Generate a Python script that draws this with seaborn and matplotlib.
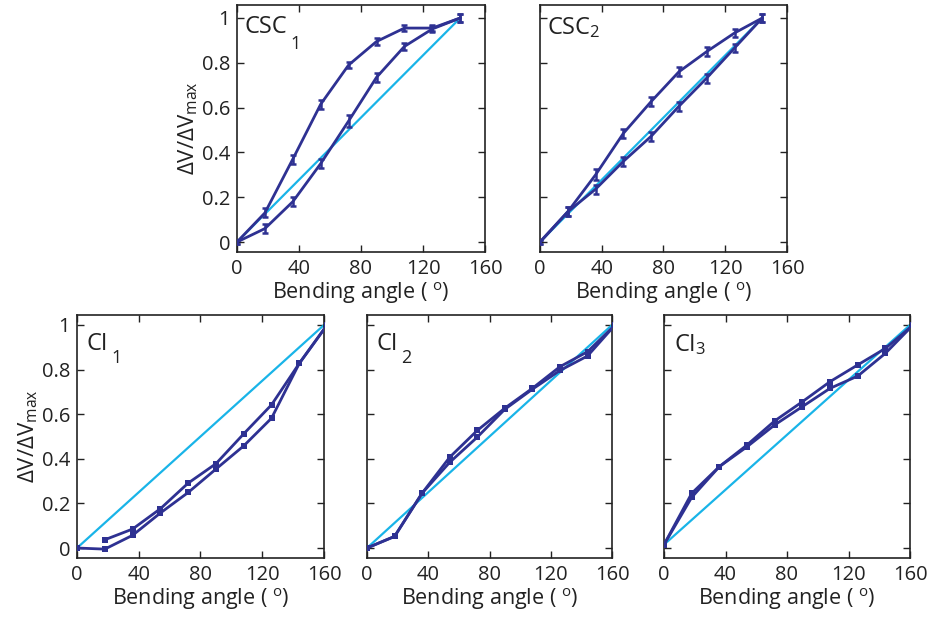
import numpy as np
import pandas as pd
import matplotlib
matplotlib.use("Agg")
import matplotlib.pyplot as plt
import seaborn as sns

# ---------------- data ----------------
x_top = [0, 18, 36, 54, 72, 90, 108, 126, 144]
x_bot = [0, 18, 36, 54, 72, 90, 108, 126, 144, 162]

csc1_up = [0.0, 0.13, 0.37, 0.615, 0.79, 0.895, 0.955, 0.955, 1.0]
csc1_dn = [0.0, 0.06, 0.18, 0.35, 0.54, 0.735, 0.873, 0.951, 1.0]
csc1_up_err = [0.01, 0.02, 0.02, 0.02, 0.015, 0.015, 0.015, 0.015, 0.02]
csc1_dn_err = [0.01, 0.02, 0.02, 0.02, 0.025, 0.02, 0.015, 0.015, 0.02]

csc2_up = [0.0, 0.135, 0.30, 0.485, 0.627, 0.76, 0.85, 0.933, 1.0]
csc2_dn = [0.0, 0.135, 0.236, 0.36, 0.472, 0.606, 0.732, 0.866, 1.0]
csc2_up_err = [0.01, 0.02, 0.025, 0.02, 0.02, 0.02, 0.02, 0.02, 0.02]
csc2_dn_err = [0.01, 0.02, 0.02, 0.02, 0.02, 0.02, 0.02, 0.02, 0.02]

ci1_a = [np.nan, 0.037, 0.085, 0.176, 0.291, 0.378, 0.512, 0.642, 0.828, 1.0]
ci1_b = [0.0, -0.005, 0.057, 0.157, 0.249, 0.354, 0.458, 0.582, 0.828, 1.0]

ci2_a = [0.0, 0.052, 0.246, 0.407, 0.527, 0.627, 0.716, 0.813, 0.88, 1.0]
ci2_b = [0.0, 0.052, 0.246, 0.384, 0.497, 0.622, 0.712, 0.796, 0.861, 1.0]

ci3_a = [0.015, 0.245, 0.365, 0.462, 0.57, 0.656, 0.746, 0.821, 0.895, 1.0]
ci3_b = [0.015, 0.227, 0.365, 0.454, 0.552, 0.634, 0.716, 0.771, 0.873, 1.0]

ref_top_x = [0, 144]
ref_top_y = [0, 1]
ref_bot_x = [0, 160]
ref_bot_y = [0, 1]
ref_ci3_y = [0.015, 1]

x_ticks = [0, 40, 80, 120, 160]
y_ticks = [0, 0.2, 0.4, 0.6, 0.8, 1]
y_ticklabels = ["0", "0.2", "0.4", "0.6", "0.8", "1"]

DARK = "#2E3192"
CYAN = "#19B4E8"
TXT = "#222222"

# ---------------- style ----------------
sns.set_style("ticks")
plt.rcParams["font.family"] = ["Open Sans", "DejaVu Sans"]
plt.rcParams["mathtext.fontset"] = "custom"
plt.rcParams["mathtext.rm"] = "Open Sans"
plt.rcParams["mathtext.it"] = "Open Sans:italic"
plt.rcParams["mathtext.bf"] = "Open Sans:bold"
plt.rcParams["xtick.direction"] = "in"
plt.rcParams["ytick.direction"] = "in"

fig = plt.figure(figsize=(9.28, 6.18), dpi=100)

W = 928.0
H = 618.0


def add_ax(left_px, right_px, top_px, bottom_px):
    return fig.add_axes([left_px / W, 1 - bottom_px / H,
                         (right_px - left_px) / W, (bottom_px - top_px) / H])


def style_ax(ax, ylims, show_ylabels):
    ax.set_xlim(0, 160)
    ax.set_ylim(*ylims)
    ax.set_xticks(x_ticks)
    ax.set_yticks(y_ticks)
    ax.set_xticklabels([str(t) for t in x_ticks])
    if show_ylabels:
        ax.set_yticklabels(y_ticklabels)
    else:
        ax.set_yticklabels([])
    ax.tick_params(which="both", direction="in", top=True, right=True,
                   length=5, width=1.0, labelsize=14.5, pad=5, colors=TXT,
                   labelcolor=TXT)
    for s in ax.spines.values():
        s.set_linewidth(1.2)
        s.set_color(TXT)
    ax.set_xlabel("Bending angle ( $^{\\mathrm{o}}$)", fontsize=15.5,
                  color=TXT, labelpad=1)
    if show_ylabels:
        ax.set_ylabel("ΔV/ΔV$_{\\mathrm{max}}$", fontsize=16,
                      color=TXT, labelpad=1)
    else:
        ax.set_ylabel("")


def draw_top(ax, up, dn, up_err, dn_err):
    df = pd.DataFrame({"x": x_top * 2, "y": up + dn,
                       "branch": ["up"] * len(x_top) + ["dn"] * len(x_top)})
    sns.lineplot(data=pd.DataFrame({"x": ref_top_x, "y": ref_top_y}), x="x", y="y",
                 ax=ax, color=CYAN, linewidth=1.6, sort=False, zorder=2)
    sns.lineplot(data=df, x="x", y="y", units="branch", estimator=None,
                 ax=ax, color=DARK, linewidth=2.0, sort=False, zorder=3)
    ax.errorbar(x_top, up, yerr=up_err, fmt="none", ecolor=DARK,
                elinewidth=1.8, capsize=2.5, capthick=1.8, zorder=4)
    ax.errorbar(x_top, dn, yerr=dn_err, fmt="none", ecolor=DARK,
                elinewidth=1.8, capsize=2.5, capthick=1.8, zorder=4)


def draw_bot(ax, a, b, ref_y):
    df = pd.DataFrame({"x": x_bot * 2, "y": a + b,
                       "branch": ["a"] * len(x_bot) + ["b"] * len(x_bot)})
    df = df.dropna()
    sns.lineplot(data=pd.DataFrame({"x": ref_bot_x, "y": ref_y}), x="x", y="y",
                 ax=ax, color=CYAN, linewidth=1.6, sort=False, zorder=2)
    sns.lineplot(data=df, x="x", y="y", units="branch", estimator=None,
                 ax=ax, color=DARK, linewidth=2.0, sort=False, zorder=3,
                 marker="s", markersize=4, markeredgewidth=0)


# top row
ax1 = add_ax(237, 485, 5, 252)
ax2 = add_ax(540, 787, 5, 252)
top_ylim = (-0.0446, 1.058)
draw_top(ax1, csc1_up, csc1_dn, csc1_up_err, csc1_dn_err)
draw_top(ax2, csc2_up, csc2_dn, csc2_up_err, csc2_dn_err)
style_ax(ax1, top_ylim, True)
style_ax(ax2, top_ylim, False)
ax1.text(0.03, 0.96, "CSC", transform=ax1.transAxes, fontsize=17,
         va="top", ha="left", color=TXT)
ax1.text(0.215, 0.88, "1", transform=ax1.transAxes, fontsize=13,
         va="top", ha="left", color=TXT)
ax2.text(0.03, 0.96, "CSC$_{2}$", transform=ax2.transAxes, fontsize=17,
         va="top", ha="left", color=TXT)

# bottom row
bot_ylim = (-0.0448, 1.0448)
ax3 = add_ax(77, 324, 315, 558)
ax4 = add_ax(367, 612, 315, 558)
ax5 = add_ax(664, 910, 315, 558)
draw_bot(ax3, ci1_a, ci1_b, ref_bot_y)
draw_bot(ax4, ci2_a, ci2_b, ref_bot_y)
draw_bot(ax5, ci3_a, ci3_b, ref_ci3_y)
style_ax(ax3, bot_ylim, True)
style_ax(ax4, bot_ylim, False)
style_ax(ax5, bot_ylim, False)
for ax, sub in [(ax3, "1"), (ax4, "2")]:
    ax.text(0.04, 0.93, "CI", transform=ax.transAxes, fontsize=17,
            va="top", ha="left", color=TXT)
    ax.text(0.14, 0.86, sub, transform=ax.transAxes, fontsize=13,
            va="top", ha="left", color=TXT)
ax5.text(0.04, 0.93, "CI$_{3}$", transform=ax5.transAxes, fontsize=17,
         va="top", ha="left", color=TXT)

for ax in [ax1, ax2, ax3, ax4, ax5]:
    leg = ax.get_legend()
    if leg is not None:
        leg.remove()

fig.savefig("out.png", dpi=100)
